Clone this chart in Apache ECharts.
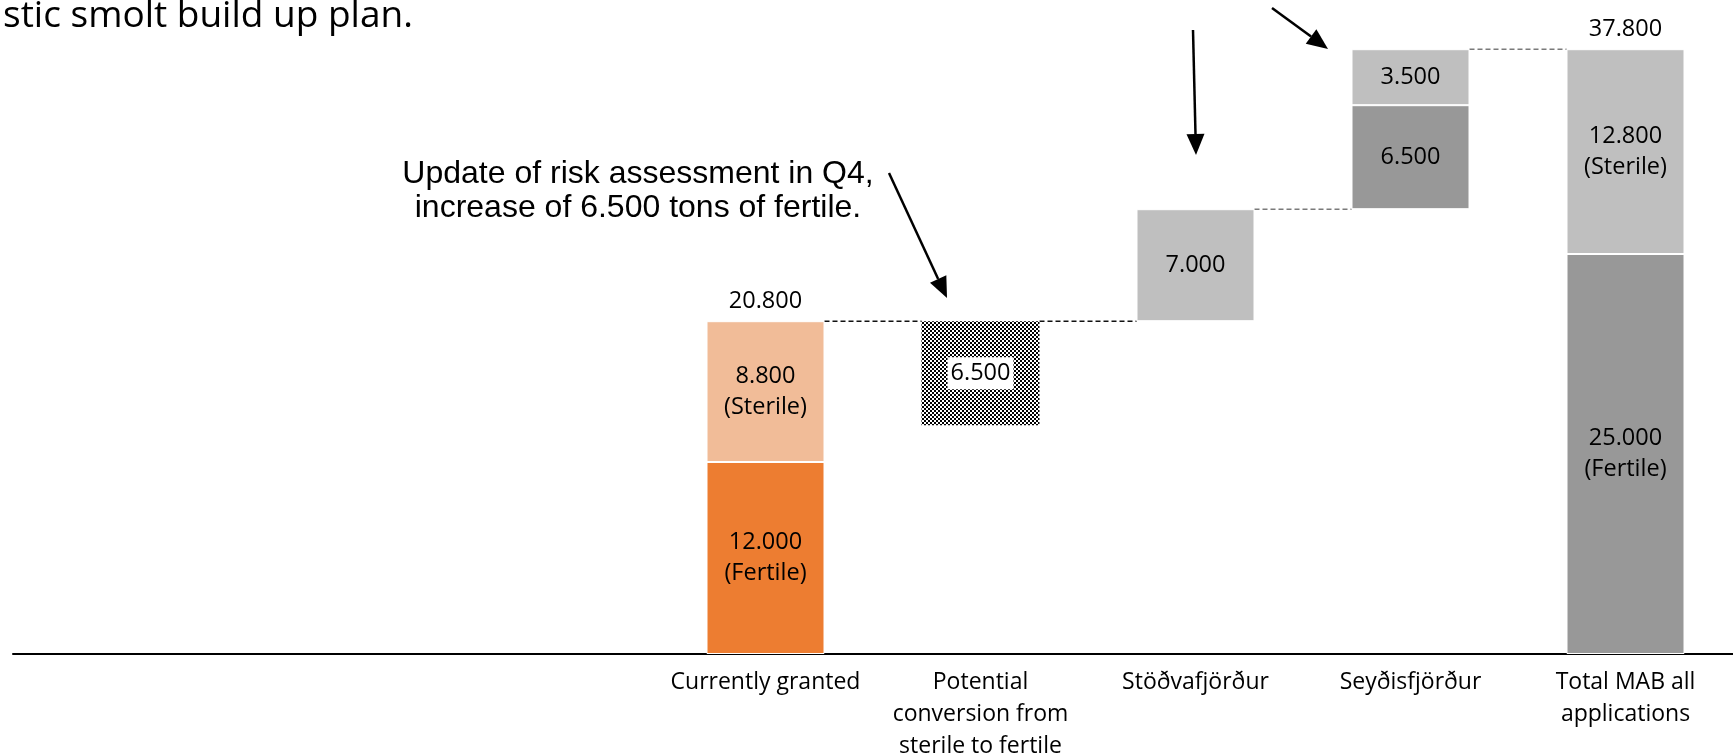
<!DOCTYPE html>
<html><head><meta charset="utf-8">
<script src="https://cdn.jsdelivr.net/npm/echarts@6/dist/echarts.min.js"></script>
<style>html,body{margin:0;padding:0;background:#fff}#c{width:1733px;height:756px}</style>
</head><body><div id="c"></div>
<script>
// ---- data ----
const categories = ['', '', '', 'Currently granted', 'Potential\nconversion from\nsterile to fertile', 'Stöðvafjörður', 'Seyðisfjörður', 'Total MAB all\napplications'];
const baseValues = [null, null, null, 0, 14300, 20800, 27800, 0];
const fertileValues = [null, null, null, 12000, null, null, 6500, 25000];
const sterileValues = [null, null, null, 8800, null, 7000, 3500, 12800];
const conversionValues = [null, null, null, null, 6500, null, null, null];
const totalValues = [null, null, null, 20800, null, null, null, 37800];
const connectorLevels = [null, null, null, 20800, 20800, 27800, 37800, null];
const fertileNotes = ['', '', '', '(Fertile)', '', '', '', '(Fertile)'];
const sterileNotes = ['', '', '', '(Sterile)', '', '', '', '(Sterile)'];
const titleText = 'stic smolt build up plan.';
const noteText = 'Update of risk assessment in Q4,\nincrease of 6.500 tons of fertile.';

// ---- styles ----
const fertileColors = [null, null, null, '#ED7D31', null, null, '#989898', '#989898'];
const sterileColors = [null, null, null, '#F1BC98', null, '#BFBFBF', '#BFBFBF', '#BFBFBF'];
const connectorColors = [null, null, null, '#111', '#111', '#7a7a7a', '#7a7a7a', null];
const LBL_FONT = '"Open Sans", sans-serif';
const BAR_W = 118;

const fmt = v => String(v).replace(/\B(?=(\d{3})+(?!\d))/g, '.');

const pc = document.createElement('canvas');
pc.width = 4; pc.height = 4;
const pctx = pc.getContext('2d');
pctx.fillStyle = '#fff'; pctx.fillRect(0, 0, 4, 4);
pctx.fillStyle = '#000'; pctx.fillRect(0, 0, 2, 2); pctx.fillRect(2, 2, 2, 2);

function segData(vals, colors, notes) {
  return vals.map((v, i) => v == null ? null : {
    value: v,
    itemStyle: { color: colors[i] },
    label: { formatter: fmt(v) + (notes[i] ? '\n' + notes[i] : '') }
  });
}

function arrow(x1, y1, x2, y2) {
  const dx = x2 - x1, dy = y2 - y1, L = Math.hypot(dx, dy);
  const ux = dx / L, uy = dy / L, hl = 21, hw = 9;
  const bx = x2 - ux * hl, by = y2 - uy * hl;
  return {
    type: 'group', children: [
      { type: 'line', shape: { x1, y1, x2: bx, y2: by }, style: { stroke: '#000', lineWidth: 2.5 } },
      { type: 'polygon', shape: { points: [[x2, y2], [bx - uy * hw, by + ux * hw], [bx + uy * hw, by - ux * hw]] }, style: { fill: '#000' } }
    ]
  };
}

const chart = echarts.init(document.getElementById('c'), null, { renderer: 'canvas' });
const labelBase = { show: true, position: 'inside', color: '#000', fontFamily: LBL_FONT, fontSize: 23.5, lineHeight: 31 };

chart.setOption({
  animation: false,
  backgroundColor: '#fff',
  grid: { left: 13, right: 0, top: 14, bottom: 102, containLabel: false, outerBoundsMode: 'none' },
  xAxis: {
    type: 'category', data: categories,
    axisLine: { lineStyle: { color: '#000', width: 2 } },
    axisTick: { show: false },
    axisLabel: { interval: 0, color: '#000', fontFamily: LBL_FONT, fontSize: 23, lineHeight: 32, margin: 12 }
  },
  yAxis: { type: 'value', min: 0, max: 40000, show: false, splitLine: { show: false } },
  series: [
    { type: 'bar', stack: 't', barWidth: BAR_W, data: baseValues, itemStyle: { color: 'transparent' }, silent: true },
    { type: 'bar', stack: 't', barWidth: BAR_W, data: segData(fertileValues, fertileColors, fertileNotes),
      itemStyle: { borderColor: '#fff', borderWidth: 1 }, label: labelBase },
    { type: 'bar', stack: 't', barWidth: BAR_W, data: conversionValues,
      itemStyle: { color: { image: pc, repeat: 'repeat' } },
      label: Object.assign({}, labelBase, { formatter: p => fmt(p.value), backgroundColor: '#fff', padding: [1, 3, 0, 3] }) },
    { type: 'bar', stack: 't', barWidth: BAR_W, data: segData(sterileValues, sterileColors, sterileNotes),
      itemStyle: { borderColor: '#fff', borderWidth: 1 }, label: labelBase },
    { type: 'scatter', data: totalValues, symbolSize: 0, itemStyle: { opacity: 1 },
      label: { show: true, position: 'top', distance: 8, formatter: p => fmt(p.value), color: '#000', fontFamily: LBL_FONT, fontSize: 23.5 } },
    { type: 'custom', encode: { x: 0, y: 1 },
      data: connectorLevels.map((v, i) => [i, v]).filter(d => d[1] != null),
      renderItem: (params, api) => {
        const i = api.value(0);
        const p = api.coord([i, api.value(1)]);
        const w = api.size([1, 0])[0];
        return { type: 'line', shape: { x1: p[0] + BAR_W / 2, y1: p[1], x2: p[0] + w - BAR_W / 2, y2: p[1] },
          style: { stroke: connectorColors[i], lineWidth: 1.5, lineDash: [5, 3] } };
      } }
  ],
  graphic: [
    { type: 'text', left: 3, top: -2, style: { text: titleText, font: '37px "Open Sans", sans-serif', fill: '#000' } },
    { type: 'text', x: 638, y: 191, style: { text: noteText, font: '32px "Liberation Sans", Arial, sans-serif', fill: '#000', align: 'center', verticalAlign: 'middle', lineHeight: 34 } },
    arrow(889, 173, 947, 298),
    arrow(1193, 30, 1196, 155),
    arrow(1272, 8, 1328, 49)
  ]
});
</script></body></html>
